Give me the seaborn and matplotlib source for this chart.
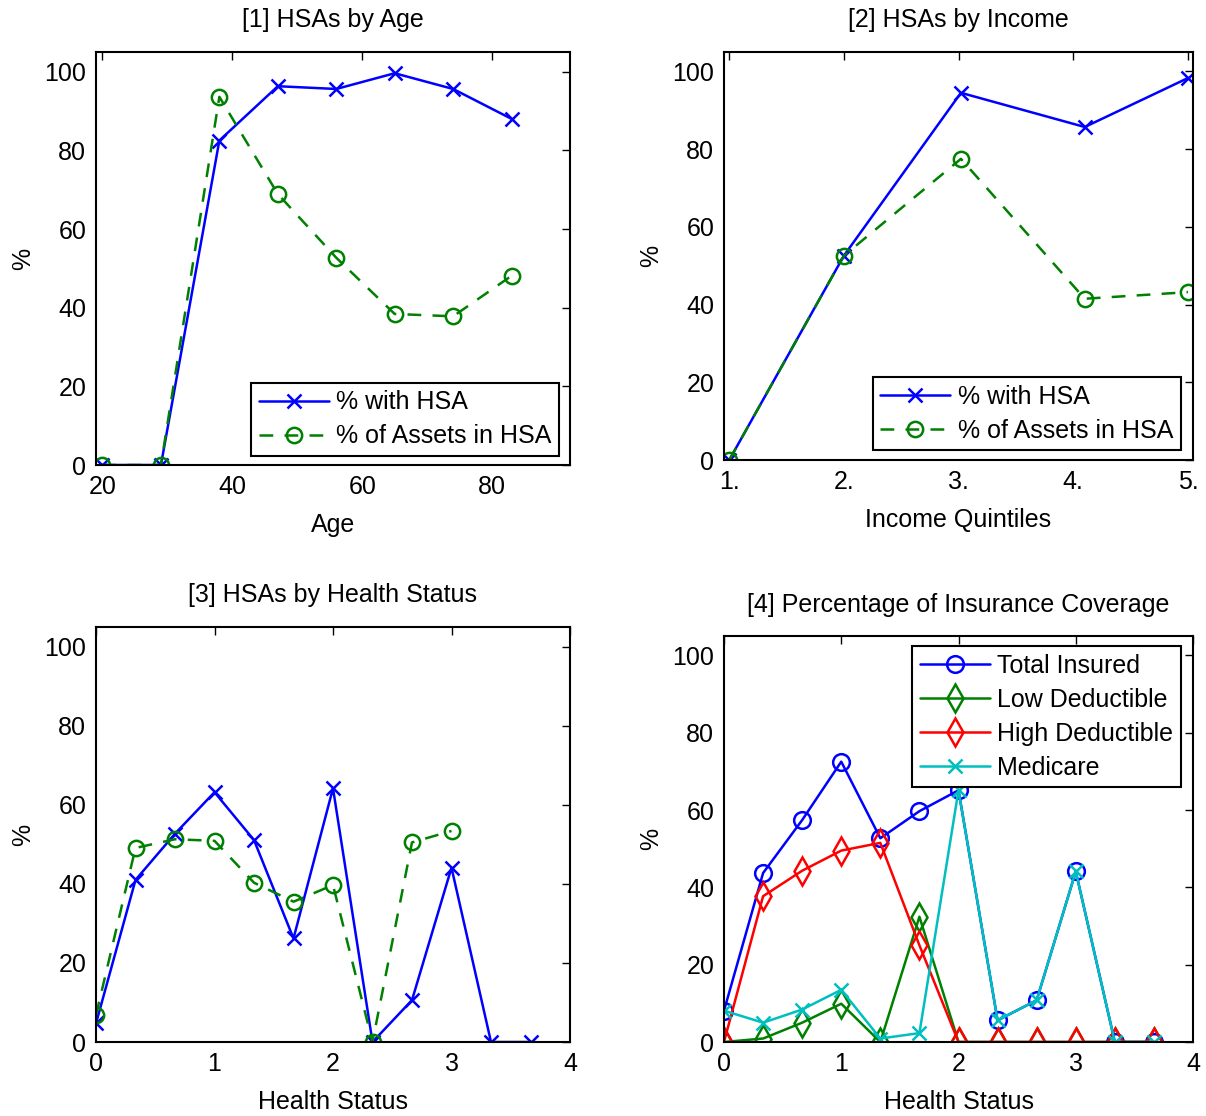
import numpy as np
import pandas as pd
import matplotlib
matplotlib.use("Agg")
import matplotlib.pyplot as plt
import seaborn as sns

# ---------------- data ----------------
age = [20, 29, 38, 47, 56, 65, 74, 83]
age_with_hsa = [0, 0, 82.5, 96.3, 95.6, 99.6, 95.6, 88.0]
age_assets_hsa = [0, 0, 93.6, 68.9, 52.7, 38.4, 37.8, 48.1]

income_x = [1.0, 2.0, 3.02, 4.1, 5.0]
income_ticks = [1, 2, 3, 4, 5]
income_ticklabels = ["1.", "2.", "3.", "4.", "5."]
income_with_hsa = [0, 52.6, 94.5, 85.7, 98.3]
income_assets_hsa = [0, 52.6, 77.5, 41.5, 43.2]

health_x = [0, 1/3, 2/3, 1, 4/3, 5/3, 2, 7/3, 8/3, 3, 10/3, 11/3]
health_with_hsa = [4.7, 41.0, 52.7, 63.2, 51.1, 26.2, 64.2, 0, 10.6, 44.1, 0, 0]
health_x_assets = [0, 1/3, 2/3, 1, 4/3, 5/3, 2, 7/3, 8/3, 3]
health_assets_hsa = [6.8, 49.1, 51.3, 50.9, 40.3, 35.5, 39.7, 0, 50.5, 53.4]

total_insured = [8.1, 43.7, 57.4, 72.5, 52.7, 59.7, 65.1, 5.6, 10.8, 44.1, 0, 0]
low_deductible = [0, 0.9, 5.0, 9.9, 0, 32.4, 0, 0, 0, 0, 0, 0]
high_deductible = [0, 37.7, 44.3, 49.5, 51.5, 25.0, 0, 0, 0, 0, 0, 0]
medicare = [8.1, 5.0, 8.4, 13.5, 0.9, 2.3, 65.1, 5.6, 10.8, 44.1, 0, 0]

health_ticks = [0, 1, 2, 3, 4]
y_ticks = [0, 20, 40, 60, 80, 100]

# ---------------- style ----------------
sns.set_style("white")
plt.rcParams['font.family'] = ['Liberation Sans', 'DejaVu Sans']
plt.rcParams['text.color'] = 'black'
plt.rcParams['axes.labelcolor'] = 'black'
FS = 18
BLUE = (0, 0, 1)
GREEN = (0, 0.5, 0)
RED = (1, 0, 0)
CYAN = (0, 0.75, 0.75)
LW = 1.8
DASH = (0, (5.5, 4.5))

fig = plt.figure(figsize=(12.06, 11.16), dpi=100)
W, H = 1206, 1116


def add_ax(l, r, t, b):
    ax = fig.add_axes([l / W, 1 - b / H, (r - l) / W, (b - t) / H])
    ax._px = (r - l, b - t)
    return ax


ax1 = add_ax(96, 570, 52, 465)
ax2 = add_ax(724, 1193, 52, 460)
ax3 = add_ax(96, 570, 627, 1042)
ax4 = add_ax(724, 1193, 636, 1042)


def series(ax, x, y, color, marker, ms, ls='-', label=None, mew=1.8):
    sns.lineplot(x=x, y=y, ax=ax, color=color, marker=marker, markersize=ms,
                 markerfacecolor='none', markeredgecolor=color, markeredgewidth=mew,
                 linewidth=LW, linestyle=ls, sort=False,
                 estimator=None, legend=False)
    ax.lines[-1].set_label(label)


def style(ax, title, xlabel, title_gap=32):
    wpx, hpx = ax._px
    ax.set_ylim(0, 105)
    ax.set_yticks(y_ticks)
    ax.tick_params(direction='in', top=True, right=True, length=6, width=1,
                   labelsize=FS, pad=7, colors='black')
    for s in ax.spines.values():
        s.set_visible(True)
        s.set_color('black')
        s.set_linewidth(1.5)
    ax.set_title(title, fontsize=FS, y=1 + title_gap / hpx, va='center', pad=0)
    ax.set_xlabel(xlabel, fontsize=FS, va='center')
    ax.xaxis.set_label_coords(0.5, -60 / hpx)
    ax.set_ylabel('%', fontsize=FS, va='center')
    ax.yaxis.set_label_coords(-73 / wpx, 0.5)


def leg(ax, loc, anchor):
    lg = ax.legend(loc=loc, bbox_to_anchor=anchor, fontsize=FS, numpoints=1,
                   handlelength=2.8, handletextpad=0.3, borderpad=0.3,
                   labelspacing=0.4, fancybox=False, framealpha=1,
                   edgecolor='black', borderaxespad=0)
    lg.get_frame().set_linewidth(1.5)


# Panel 1
series(ax1, age, age_with_hsa, BLUE, 'x', 10, '-', '% with HSA')
series(ax1, age, age_assets_hsa, GREEN, 'o', 11, DASH, '% of Assets in HSA')
style(ax1, '[1] HSAs by Age', 'Age')
ax1.set_xlim(19, 92)
ax1.set_xticks([20, 40, 60, 80])
leg(ax1, 'lower right', (0.977, 0.022))

# Panel 2
series(ax2, income_x, income_with_hsa, BLUE, 'x', 10, '-', '% with HSA')
series(ax2, income_x, income_assets_hsa, GREEN, 'o', 11, DASH, '% of Assets in HSA')
style(ax2, '[2] HSAs by Income', 'Income Quintiles')
ax2.set_xlim(0.954, 5.044)
ax2.set_xticks(income_ticks)
ax2.set_xticklabels(income_ticklabels)
leg(ax2, 'lower right', (0.974, 0.024))

# Panel 3
series(ax3, health_x, health_with_hsa, BLUE, 'x', 10, '-', '% with HSA')
series(ax3, health_x_assets, health_assets_hsa, GREEN, 'o', 11, DASH, '% of Assets in HSA')
style(ax3, '[3] HSAs by Health Status', 'Health Status')
ax3.set_xlim(0, 4)
ax3.set_xticks(health_ticks)

# Panel 4
series(ax4, health_x, total_insured, BLUE, 'o', 12, '-', 'Total Insured')
series(ax4, health_x, low_deductible, GREEN, 'd', 14, '-', 'Low Deductible')
series(ax4, health_x, high_deductible, RED, 'd', 14, '-', 'High Deductible')
series(ax4, health_x, medicare, CYAN, 'x', 10, '-', 'Medicare')
style(ax4, '[4] Percentage of Insurance Coverage', 'Health Status', title_gap=31)
ax4.set_xlim(0, 4)
ax4.set_xticks(health_ticks)
leg(ax4, 'upper right', (0.974, 0.975))

fig.savefig('out.png', dpi=100)
